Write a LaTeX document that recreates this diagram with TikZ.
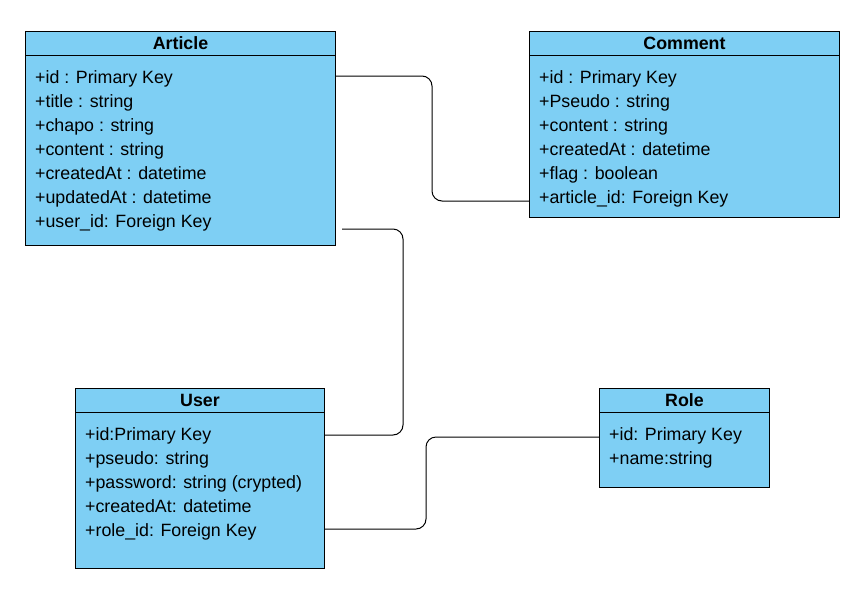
\documentclass[tikz,border=0pt]{standalone}
\usepackage{fontspec}
\setmainfont{Liberation Sans}
\definecolor{clsblue}{RGB}{126,207,244}
\begin{document}
\begin{tikzpicture}[x=1pt, y=-1pt,
    cls/.style={draw, line width=1pt, fill=clsblue, anchor=north west, inner sep=0pt},
    hdr/.style={cls, minimum height=24pt, font=\fontsize{17.8}{20}\selectfont\bfseries},
    attr/.style={anchor=base west, inner sep=0pt, font=\fontsize{17.8}{20}\selectfont},
    link/.style={line width=1pt, rounded corners=10pt}]
    \useasboundingbox (0,0) rectangle (867,592);

    % Article class
    \node[cls, minimum width=310pt, minimum height=214pt] (art) at (25,31) {};
    \node[hdr, minimum width=310pt] (arth) at (25,31) {Article};
    \foreach \t [count=\i] in {{+id : Primary Key},{+title : string},{+chapo : string},{+content : string},{+createdAt : datetime},{+updatedAt : datetime},{+user\_id: Foreign Key}}{
        \node[attr] (a\i) at (35,59+24*\i) {\t};
    }

    % Comment class
    \node[cls, minimum width=310pt, minimum height=186pt] (com) at (529,31) {};
    \node[hdr, minimum width=310pt] (comh) at (529,31) {Comment};
    \foreach \t [count=\i] in {{+id : Primary Key},{+Pseudo : string},{+content : string},{+createdAt : datetime},{+flag : boolean},{+article\_id: Foreign Key}}{
        \node[attr] (c\i) at (539,59+24*\i) {\t};
    }

    % User class
    \node[cls, minimum width=249pt, minimum height=180pt] (usr) at (75,388) {};
    \node[hdr, minimum width=249pt] (usrh) at (75,388) {User};
    \foreach \t [count=\i] in {{+id:Primary Key},{+pseudo: string},{+password: string (crypted)},{+createdAt: datetime},{+role\_id: Foreign Key}}{
        \node[attr] (u\i) at (85,416+24*\i) {\t};
    }

    % Role class
    \node[cls, minimum width=170pt, minimum height=99pt] (rol) at (599,388) {};
    \node[hdr, minimum width=170pt] (rolh) at (599,388) {Role};
    \foreach \t [count=\i] in {{+id: Primary Key},{+name:string}}{
        \node[attr] (r\i) at (609,416+24*\i) {\t};
    }

    % Links
    \coordinate (artfree) at (342,229);
    \draw[link] (art.east |- 0,76) -- (432,76) -- (432,201) -- (com.west |- 0,201);
    \draw[link] (artfree) -- (403,229) -- (403,435) -- (usr.east |- 0,435);
    \draw[link] (usr.east |- 0,529) -- (426,529) -- (426,437) -- (rol.west |- 0,437);
\end{tikzpicture}
\end{document}
